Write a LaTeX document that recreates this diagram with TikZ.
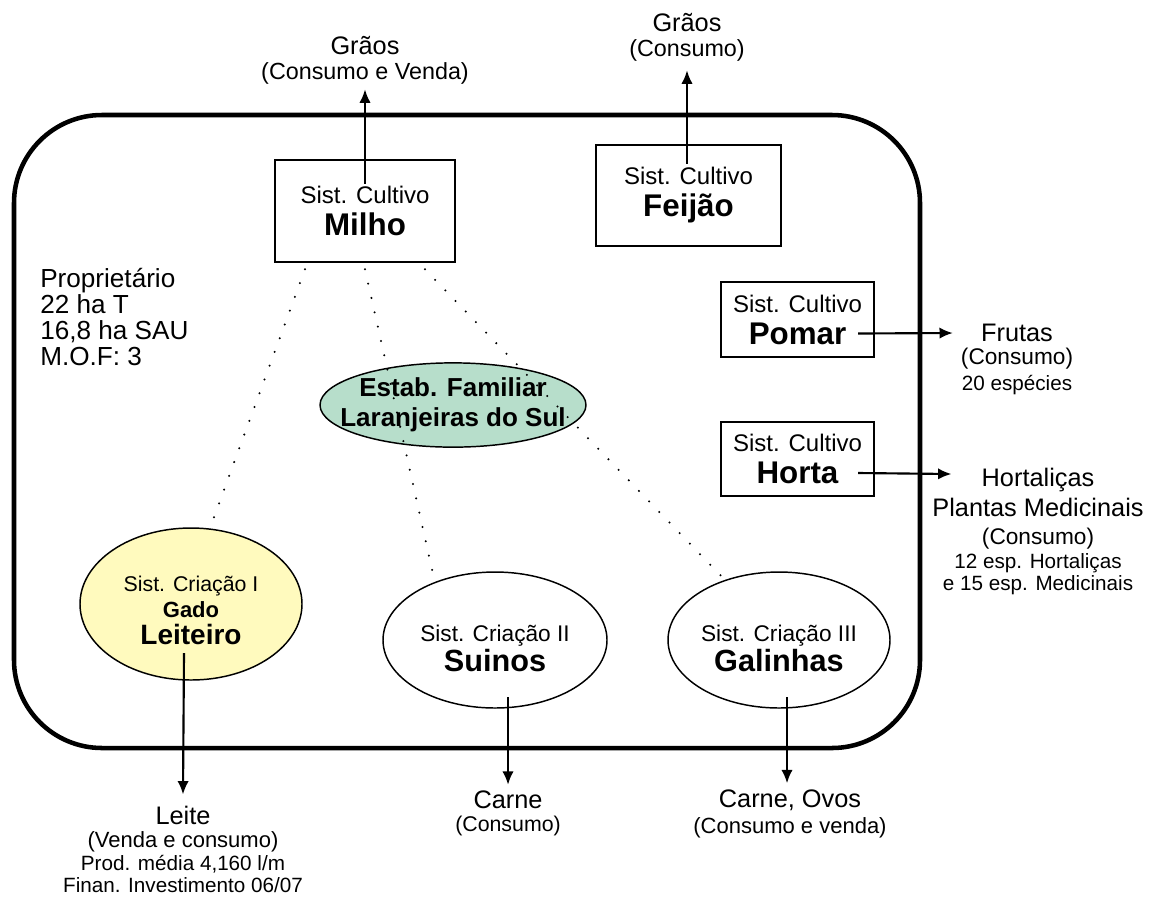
\documentclass[tikz,border=0pt]{standalone}
\usepackage{fontspec}
\setmainfont{Liberation Sans}
\usetikzlibrary{positioning,calc,shapes.geometric,arrows.meta}
\definecolor{leitefill}{RGB}{255,250,190}
\definecolor{estabfill}{RGB}{183,222,203}
\tikzset{out edge/.style={line width=1.6pt,-{Latex[length=10pt,width=8.5pt]}},
 dot edge/.style={line width=1.7pt,line cap=round,dash pattern=on 0pt off 11pt}}
\begin{document}
\begin{tikzpicture}[x=0.75pt,y=-0.75pt,
 sist/.style={draw,line width=1.5pt,align=center,inner sep=0pt,font=\fontsize{18}{24}\selectfont},
 cria/.style={draw,ellipse,line width=1.1pt,align=center,inner sep=0pt},
 outl/.style={align=center,inner sep=0pt,font=\fontsize{19}{22}\selectfont},
 outs/.style={align=center,inner sep=0pt,font=\fontsize{17.5}{21}\selectfont}]
\useasboundingbox (0,0) rectangle (1152,901);

\draw[line width=3.4pt,rounded corners=66pt] (14,115) rectangle (920,748);

\node[sist,minimum width=135pt,minimum height=77pt] (MILHO) at (365,211) {Sist. Cultivo\\{\fontsize{23.5}{24}\selectfont\bfseries Milho}};
\node[sist,minimum width=139pt,minimum height=76pt] (FEIJ) at (688.5,195.5) {Sist. Cultivo\\{\fontsize{23.5}{24}\selectfont\bfseries Feijão}};
\node[sist,minimum width=115pt,minimum height=56pt] (POM) at (797.5,319.5) {Sist. Cultivo\\{\fontsize{23.5}{24}\selectfont\bfseries Pomar}};
\node[sist,minimum width=115pt,minimum height=56pt] (HORT) at (797.5,459) {Sist. Cultivo\\{\fontsize{23.5}{24}\selectfont\bfseries Horta}};

\node[align=left,anchor=north west,inner sep=0pt,font=\fontsize{19.6}{19.5}\selectfont] (PROP) at (40,268) {Proprietário\\22 ha T\\16,8 ha SAU\\M.O.F: 3};

\node[cria,fill=estabfill,inner xsep=-14pt,inner ysep=2pt,font=\fontsize{19.5}{22.5}\selectfont\bfseries] (ESTAB) at (453,405) {Estab. Familiar\\Laranjeiras do Sul};
\node[cria,fill=leitefill,minimum width=166.5pt,minimum height=114pt,font=\fontsize{16}{20}\selectfont] (LEIT) at (191,604) {\rule{0pt}{21pt}Sist. Criação I\\{\fontsize{16.5}{20}\selectfont\bfseries Gado}\\{\fontsize{21}{20}\selectfont\bfseries Leiteiro}};
\node[cria,minimum width=168pt,minimum height=102pt,font=\fontsize{17}{22}\selectfont] (SUIN) at (495,640) {\rule{0pt}{25pt}Sist. Criação II\\{\fontsize{23}{22}\selectfont\bfseries Suinos}};
\node[cria,minimum width=166.5pt,minimum height=102pt,font=\fontsize{17}{22}\selectfont] (GAL) at (779,640) {\rule{0pt}{25pt}Sist. Criação III\\{\fontsize{23}{22}\selectfont\bfseries Galinhas}};

\node[outl] (GRM) at (365,46) {Grãos};
\node[outs,below=5pt of GRM] (GRMS) {(Consumo e Venda)};
\node[outl] (GRF) at (687,23) {Grãos};
\node[outs,below=5pt of GRF] (GRFS) {(Consumo)};

\node[outl] (FRU) at (1017,333) {Frutas};
\node[outs,below=4pt of FRU,font=\fontsize{17}{19.5}\selectfont] (FRUS) {(Consumo)\\{\fontsize{15.5}{19.5}\selectfont 20 espécies}};
\node[outl] (HORL) at (1038,480) {Hortaliças};
\node[outs,below=4pt of HORL,font=\fontsize{17}{21}\selectfont] (HORLS) {{\fontsize{19}{21}\selectfont Plantas Medicinais}\\(Consumo)\\[-3pt]{\fontsize{15.5}{21}\selectfont 12 esp. Hortaliças}\\[-4.5pt]{\fontsize{15.5}{21}\selectfont e 15 esp. Medicinais}};

\node[outl] (LEL) at (183,815) {Leite};
\node[outs,below=5pt of LEL,font=\fontsize{16.5}{17}\selectfont] (LELS) {(Venda e consumo)\\{\fontsize{15.5}{17}\selectfont Prod. média 4,160 l/m}\\{\fontsize{15.5}{17}\selectfont Finan. Investimento 06/07}};
\node[outl] (CARL) at (508,800) {Carne};
\node[outs,below=5pt of CARL,font=\fontsize{16}{21}\selectfont] (CARLS) {(Consumo)};
\node[outl] (OVL) at (790,800) {Carne, Ovos};
\node[outs,below=5pt of OVL,font=\fontsize{16.5}{21}\selectfont] (OVLS) {(Consumo e venda)};

\draw ($(MILHO.north)+(0,25)$) edge[out edge] ($(GRMS.south)+(0,5)$)
 ($(FEIJ.north)+(-1.5,20)$) edge[out edge] ($(GRFS.south)+(0,9)$)
 ($(POM.east)+(-17,14)$) edge[out edge] ($(FRU.west)+(-28,0)$)
 ($(HORT.east)+(-17,14)$) edge[out edge] ($(HORL.west)+(-30,-6)$)
 ($(LEIT.center)+(-7,49)$) edge[out edge] ($(LEL.north)+(0,-11)$)
 ($(SUIN.center)+(13,57)$) edge[out edge] ($(CARL.north)+(0,-6)$)
 ($(GAL.center)+(8,57)$) edge[out edge] ($(OVL.north)+(-3,-6)$);

\draw ($(MILHO.south)+(-60,6)$) edge[dot edge] (LEIT.76)
 ($(MILHO.south)+(0,6)$) edge[dot edge,shorten >=9pt] (SUIN.136)
 ($(MILHO.south)+(60,6)$) edge[dot edge] (GAL.132);
\end{tikzpicture}
\end{document}
